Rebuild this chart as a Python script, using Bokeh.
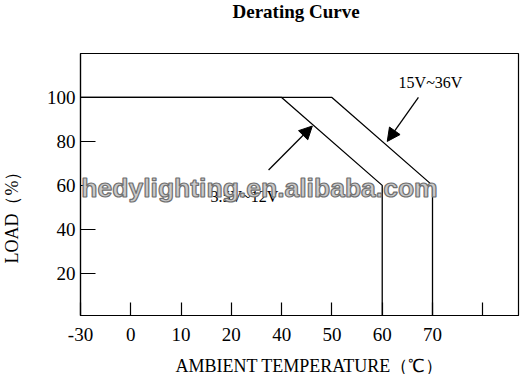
import math
from bokeh.plotting import figure
from bokeh.models import Label, Arrow, NormalHead, FixedTicker, Range1d, Title
from bokeh.embed import file_html
from bokeh.resources import INLINE

# ---- data ----
temp_labels = ["-30", "0", "10", "20", "40", "50", "60", "70", ""]
load_ticks = [20, 40, 60, 80, 100]

low_temps = ["-30", "40", "60", "60"]      # 3.5V~12V
low_load = [100, 100, 60, 0]
high_temps = ["-30", "50", "70", "70"]     # 15V~36V
high_load = [100, 100, 60, 0]

low_name = "3.5V~12V"
high_name = "15V~36V"

# annotation anchors (axis position index, load %)
low_arrow = [(3.74, 67.0), (4.61, 87.0)]
high_arrow = [(6.72, 100.0), (6.10, 80.0)]
low_text_at = (3.26, 55.0)
high_text_at = (6.96, 107.0)

title_text = "Derating Curve"
x_title = "AMBIENT TEMPERATURE（℃）"
y_title = "LOAD（%）"
watermark = "hedylighting.en.alibaba.com"


def pos(t):
    return temp_labels.index(t)


SERIF = "Liberation Serif"

p = figure(width=521, height=374, output_backend="svg", toolbar_location=None,
           x_range=Range1d(0, 8.71), y_range=Range1d(0.8, 120),
           min_border_left=80, min_border_right=3, min_border_top=53,
           min_border_bottom=59)
p.background_fill_color = "white"
p.border_fill_color = "white"
p.outline_line_color = "black"
p.outline_line_width = 1.2
p.xgrid.visible = False
p.ygrid.visible = False

for ax in (p.xaxis[0], p.yaxis[0]):
    ax.axis_line_color = "black"
    ax.axis_line_width = 1.2
    ax.major_tick_line_color = "black"
    ax.major_tick_line_width = 1.2
    ax.major_tick_out = 0
    ax.minor_tick_line_color = None
    ax.major_label_text_font = SERIF
    ax.major_label_text_font_size = "19px"
    ax.major_label_text_color = "black"

p.xaxis.ticker = FixedTicker(ticks=list(range(len(temp_labels))))
p.xaxis.major_label_overrides = {i: t for i, t in enumerate(temp_labels)}
p.xaxis.major_tick_in = 13
p.xaxis.major_label_standoff = 12

p.yaxis.ticker = FixedTicker(ticks=load_ticks)
p.yaxis.major_tick_in = 15
p.yaxis.major_label_standoff = 5

# curves
p.line([pos(t) for t in low_temps], low_load, line_color="black", line_width=1.3)
p.line([pos(t) for t in high_temps], high_load, line_color="black", line_width=1.3)

# arrows
for (s, e) in (low_arrow, high_arrow):
    p.add_layout(Arrow(x_start=s[0], y_start=s[1], x_end=e[0], y_end=e[1],
                       line_color="black", line_width=1.3,
                       end=NormalHead(size=13, fill_color="black",
                                      line_color="black")))

# series labels
p.add_layout(Label(x=high_text_at[0], y=high_text_at[1], text=high_name,
                   text_font=SERIF, text_font_size="16px", text_align="center",
                   text_baseline="alphabetic", text_color="black"))
p.add_layout(Label(x=low_text_at[0], y=low_text_at[1], text=low_name,
                   text_font=SERIF, text_font_size="16px", text_align="center",
                   text_baseline="alphabetic", text_color="black"))

# watermark
wm_kwargs = dict(x=179, y=128, x_units="screen", y_units="screen", text=watermark,
                 text_font="Liberation Sans", text_font_style="bold",
                 text_font_size="26.5px", text_align="center",
                 text_baseline="alphabetic", text_color="#cacaca")
try:
    wm = Label(**wm_kwargs, text_outline_color="#707070")
except Exception:
    wm = Label(**wm_kwargs)
p.add_layout(wm)

# titles (multi-line blocks used to place them at the canvas edges)
p.title = Title(text=title_text + "\n", text_font=SERIF, text_font_style="bold",
                text_font_size="19px", align="left", offset=152,
                vertical_align="top", text_line_height=1.6,
                text_color="black")
try:
    p.title.standoff = -8
except Exception:
    pass

xt = Title(text="\n" + x_title, text_font=SERIF, text_font_size="18px",
           text_font_style="normal", align="left", offset=95,
           vertical_align="bottom", text_color="black")
try:
    xt.standoff = -20
except Exception:
    xt.standoff = 0
p.add_layout(xt, "below")

yt = Title(text=y_title + "\n", text_font=SERIF, text_font_size="18px",
           text_font_style="normal", align="left", offset=52,
           vertical_align="top", text_color="black")
try:
    yt.standoff = -1
except Exception:
    yt.standoff = 0
p.add_layout(yt, "left")

open("out.html", "w").write(file_html(p, INLINE))
